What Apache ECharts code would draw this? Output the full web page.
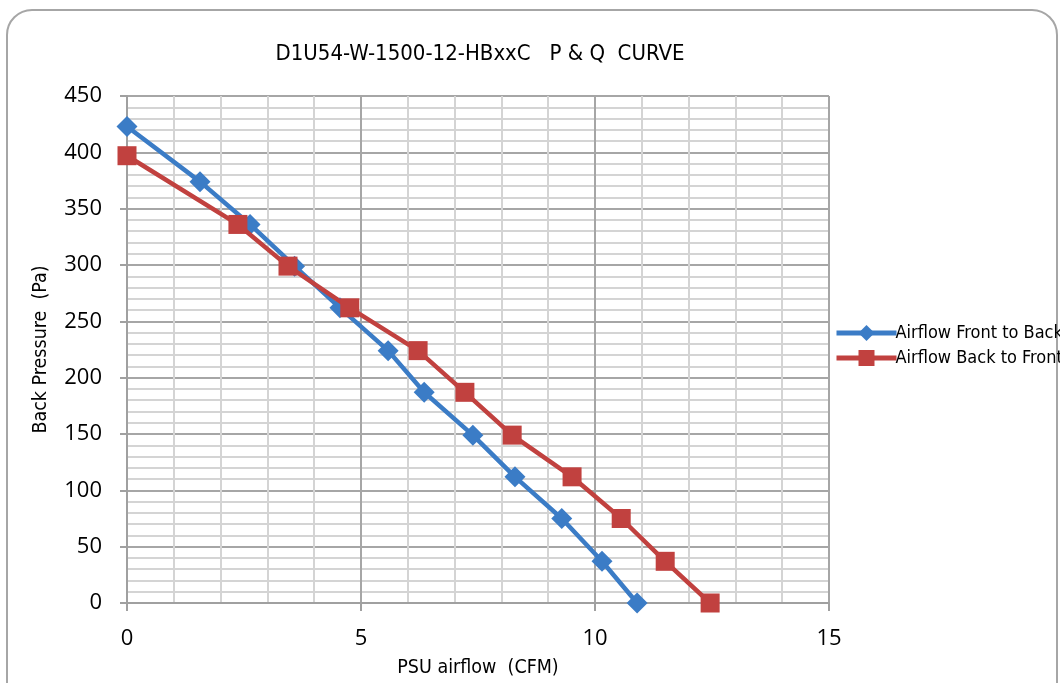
<!DOCTYPE html>
<html>
<head>
<meta charset="utf-8">
<script src="https://cdn.jsdelivr.net/npm/echarts@6/dist/echarts.min.js"></script>
<style>
html,body{margin:0;padding:0;background:#fff;}
#frame{position:absolute;left:6px;top:9px;width:1052px;height:700px;border:2px solid #a6a6a6;border-radius:26px;box-sizing:border-box;}
#chart{position:absolute;left:0;top:0;width:1060px;height:683px;}
</style>
</head>
<body>
<div id="frame"></div>
<div id="chart"></div>
<script>
const titleText = 'D1U54-W-1500-12-HBxxC   P & Q  CURVE';
const xAxisName = 'PSU airflow  (CFM)';
const yAxisName = 'Back Pressure  (Pa)';
const seriesNames = ['Airflow Front to Back', 'Airflow Back to Front'];
const frontToBackX = [0, 1.56, 2.63, 3.58, 4.55, 5.58, 6.35, 7.39, 8.29, 9.29, 10.15, 10.9];
const frontToBackY = [423, 374, 336, 299, 262, 224, 187, 149, 112, 75, 37, 0];
const backToFrontX = [0, 2.37, 3.44, 4.76, 6.22, 7.22, 8.23, 9.51, 10.56, 11.5, 12.46];
const backToFrontY = [397, 336, 299, 262, 224, 187, 149, 112, 75, 37, 0];

const pairs = (xs, ys) => xs.map((x, i) => [x, ys[i]]);
const narrow = '"DejaVu Sans Condensed", "Liberation Sans Narrow", sans-serif';
const labelFont = '"Open Sans", "Noto Sans", sans-serif';
const blue = '#3b7cc6';
const red = '#c1413f';

const chart = echarts.init(document.getElementById('chart'), null, {renderer: 'canvas'});
chart.setOption({
  animation: false,
  backgroundColor: 'transparent',
  title: {
    text: titleText, left: 475, top: 38, textAlign: 'center',
    textStyle: {fontFamily: narrow, fontSize: 22, fontWeight: 'normal', color: '#000'}
  },
  legend: {
    orient: 'vertical', left: 829, top: 319, itemGap: 7,
    itemWidth: 60, itemHeight: 20,
    textStyle: {fontFamily: narrow, fontSize: 18, color: '#000', padding: [0, 0, 0, -6]},
    data: [
      {name: seriesNames[0], lineStyle: {width: 5, color: blue}, itemStyle: {color: blue}},
      {name: seriesNames[1], lineStyle: {width: 5, color: red}, itemStyle: {color: red}}
    ]
  },
  grid: {left: 127, right: 231, top: 96, bottom: 79, containLabel: false},
  xAxis: {
    type: 'value', min: 0, max: 15, interval: 5,
    name: xAxisName, nameLocation: 'middle', nameGap: 55,
    nameTextStyle: {fontFamily: narrow, fontSize: 19.5, color: '#000'},
    axisLine: {show: true, onZero: false, lineStyle: {color: '#a0a0a0', width: 2}},
    axisTick: {show: true, length: 8, inside: false, lineStyle: {color: '#a0a0a0', width: 2}},
    axisLabel: {margin: 25, fontFamily: labelFont, fontSize: 22, color: '#000'},
    splitLine: {show: true, lineStyle: {color: '#a6a6a6', width: 2}},
    minorTick: {show: false, splitNumber: 5},
    minorSplitLine: {show: true, lineStyle: {color: '#d4d4d4', width: 2}}
  },
  yAxis: {
    type: 'value', min: 0, max: 450, interval: 50,
    name: yAxisName, nameLocation: 'middle', nameGap: 76, nameRotate: 90,
    nameTextStyle: {fontFamily: narrow, fontSize: 19.5, color: '#000'},
    axisLine: {show: true, lineStyle: {color: '#a0a0a0', width: 2}},
    axisTick: {show: true, length: 7, inside: false, lineStyle: {color: '#a0a0a0', width: 2}},
    axisLabel: {margin: 25, fontFamily: labelFont, fontSize: 22, color: '#000'},
    splitLine: {show: true, lineStyle: {color: '#a6a6a6', width: 2}},
    minorTick: {show: false, splitNumber: 5},
    minorSplitLine: {show: true, lineStyle: {color: '#d4d4d4', width: 2}}
  },
  series: [
    {
      name: seriesNames[0], type: 'line', data: pairs(frontToBackX, frontToBackY),
      symbol: 'diamond', symbolSize: 21, z: 3,
      lineStyle: {color: blue, width: 4.5},
      itemStyle: {color: blue}
    },
    {
      name: seriesNames[1], type: 'line', data: pairs(backToFrontX, backToFrontY),
      symbol: 'rect', symbolSize: 19, z: 4,
      lineStyle: {color: red, width: 4.5},
      itemStyle: {color: red}
    }
  ]
});
</script>
</body>
</html>
